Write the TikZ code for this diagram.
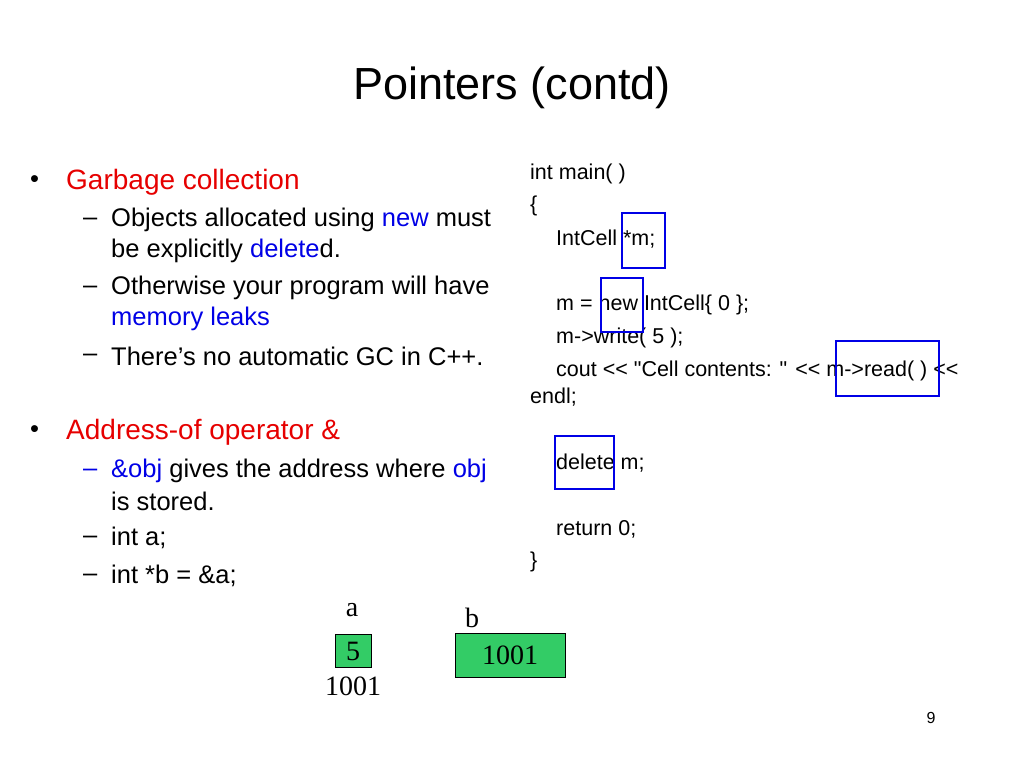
\documentclass[tikz,border=0pt]{standalone}
\usepackage{fontspec}
\setmainfont{Liberation Sans}
\newfontfamily\timesfont{Liberation Serif}
\definecolor{slidered}{RGB}{230,0,0}
\definecolor{slideblue}{RGB}{0,0,230}
\definecolor{cellgreen}{RGB}{51,204,102}
\tikzset{
  txt/.style={anchor=west, inner sep=0pt, font=\fontsize{25.5}{29}\selectfont},
  head/.style={anchor=west, inner sep=0pt, text=slidered, font=\fontsize{28}{32}\selectfont},
  code/.style={anchor=west, inner sep=0pt, font=\fontsize{21.5}{24}\selectfont},
  hilite/.style={draw=slideblue, line width=2.2pt},
  cell/.style={draw, fill=cellgreen, inner sep=0pt, font=\timesfont\fontsize{28}{30}\selectfont},
  serif/.style={inner sep=0pt, font=\timesfont\fontsize{28}{30}\selectfont}
}
\newcommand{\shl}{{<}{<}}
\begin{document}
\begin{tikzpicture}[x=1pt, y=-1pt]
  \useasboundingbox (0,0) rectangle (1024,768);
  \node[font=\fontsize{45}{50}\selectfont] (title) at (512,88) {Pointers (contd)};
  % left column
  \node[txt] (b1) at (30,182) {\textbullet};
  \node[head] (gc) at (66,182) {Garbage collection};
  \node[txt] (d1) at (83,222) {–};
  \node[txt] (s1) at (111,220) {Objects allocated using \textcolor{slideblue}{new} must};
  \node[txt] (s1b) at (111,251) {be explicitly \textcolor{slideblue}{delete}d.};
  \node[txt] (d2) at (83,290) {–};
  \node[txt] (s2) at (111,288) {Otherwise your program will have};
  \node[txt, text=slideblue] (s2b) at (111,319) {memory leaks};
  \node[txt] (d3) at (83,358) {–};
  \node[txt] (s3) at (111,356) {There’s no automatic GC in C++.};
  \node[txt] (b2) at (30,432) {\textbullet};
  \node[head] (ao) at (66,432) {Address-of operator \&};
  \node[txt, text=slideblue] (d4) at (83,473) {–};
  \node[txt] (s4) at (111,471) {\textcolor{slideblue}{\&obj} gives the address where \textcolor{slideblue}{obj}};
  \node[txt] (s4b) at (111,501) {is stored.};
  \node[txt] (d5) at (83,540) {–};
  \node[txt] (s5) at (111,538) {int a;};
  \node[txt] (d6) at (83,578) {–};
  \node[txt] (s6) at (111,576) {int *b = \&a;};
  % code
  \node[code] (c1) at (530,174) {int main( )};
  \node[code] (c2) at (530,206) {\{};
  \node[code] (c3) at (556,239) {IntCell *m;};
  \node[code] (c4) at (556,305) {m = new IntCell\{ 0 \};};
  \node[code] (c5) at (556,338) {m->write( 5 );};
  \node[code] (c6) at (556,371) {cout \shl{} \textquotedbl Cell contents: \textquotedbl{} \shl{} m->read( ) \shl};
  \node[code] (c7) at (530,397) {endl;};
  \node[code] (c8) at (556,463) {delete m;};
  \node[code] (c9) at (556,529) {return 0;};
  \node[code] (c10) at (530,562) {\}};
  \draw[hilite] (622,213) rectangle (665,268);
  \draw[hilite] (601,278) rectangle (643,332);
  \draw[hilite] (836,341) rectangle (939,396);
  \draw[hilite] (555,436) rectangle (614,489);
  % memory cells
  \node[serif] (la) at (352,610) {a};
  \node[serif] (lb) at (472,618) {b};
  \node[cell, minimum width=36pt, minimum height=33pt] (ca) at (353,651) {5};
  \node[serif] (addr) at (353,686) {1001};
  \node[cell, minimum width=110pt, minimum height=44pt] (cb) at (510,655) {1001};
  \node[font=\fontsize{16}{18}\selectfont] (pg) at (931,718) {9};
\end{tikzpicture}
\end{document}
